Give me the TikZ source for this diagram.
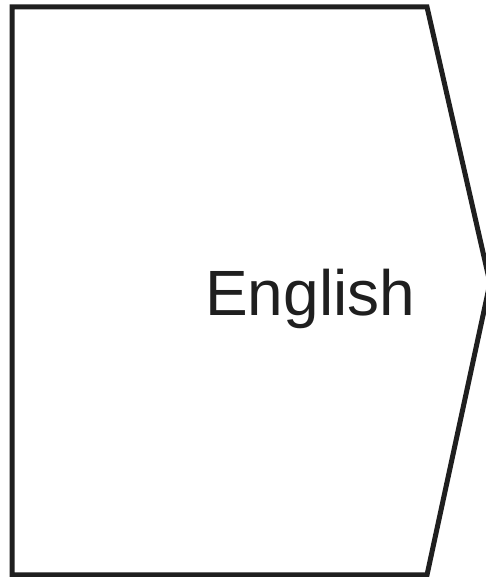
\documentclass[tikz,border=0pt]{standalone}
\usepackage{fontspec}
\setmainfont{Liberation Sans}
\begin{document}
\begin{tikzpicture}[x=1pt,y=1pt,
  outline/.style={draw=black!88,line width=5pt,line join=miter},
  label/.style={inner sep=0pt,anchor=base west,text=black!88,font=\fontsize{64}{70}\selectfont}]
\useasboundingbox (0,0) rectangle (486,577);
\coordinate (tl) at (12,570);
\coordinate (tr) at (427,570);
\coordinate (tip) at (490,294);
\coordinate (br) at (427,2);
\coordinate (bl) at (12,2);
\draw[outline] (tl) -- (tr) -- (tip) -- (br) -- (bl) -- cycle;
\node[label] (txt) at (205,261) {English};
\end{tikzpicture}
\end{document}
